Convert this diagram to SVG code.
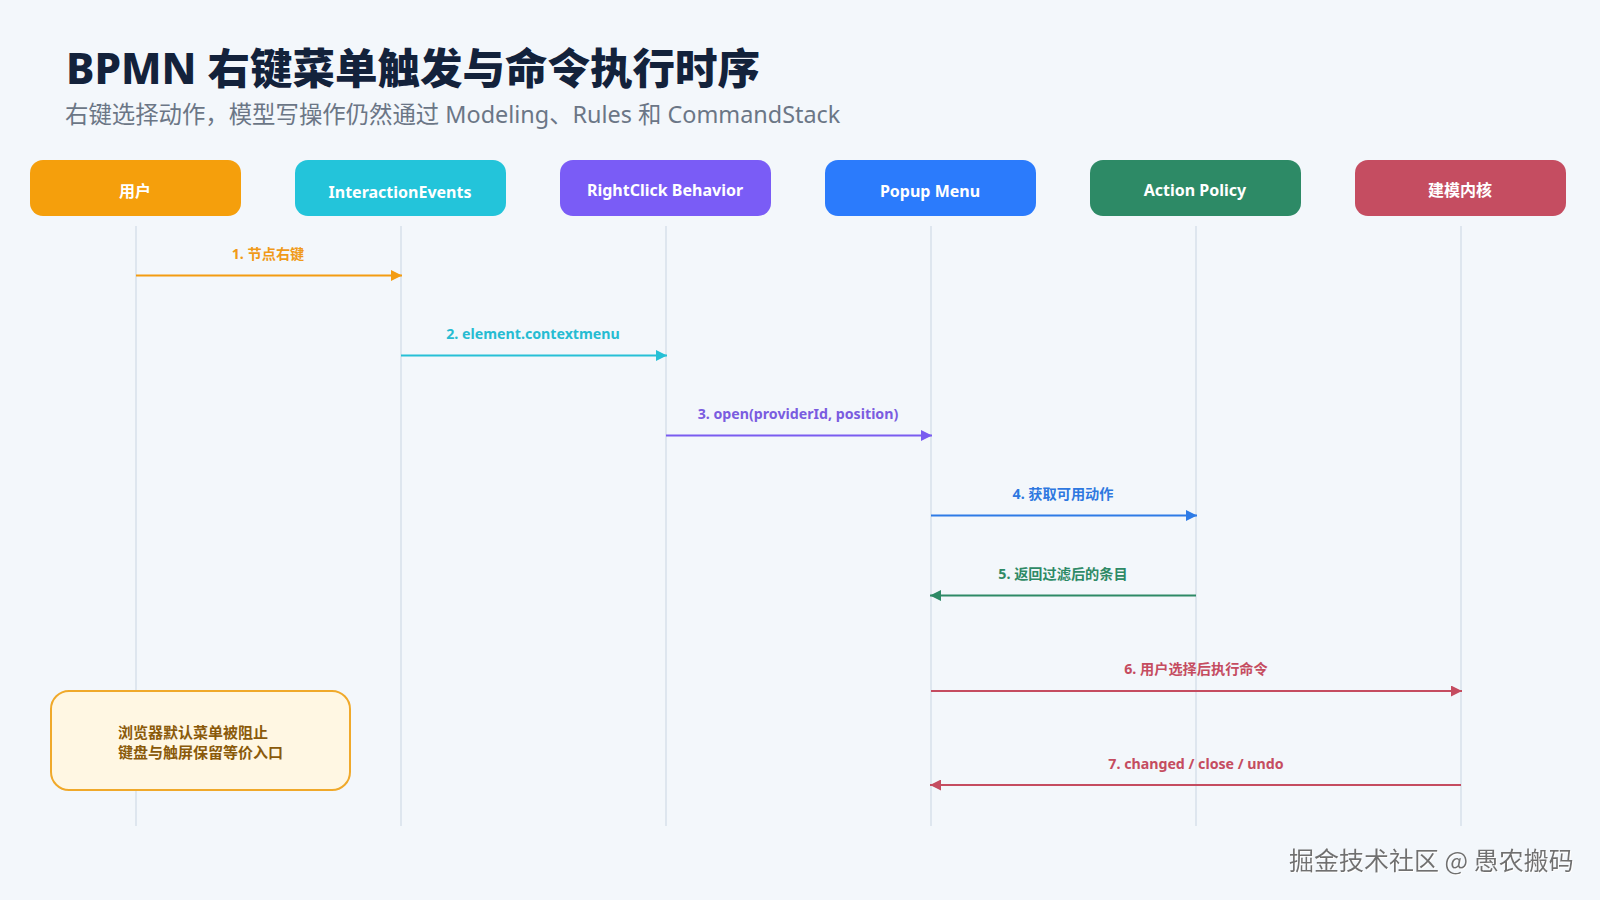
<svg xmlns="http://www.w3.org/2000/svg" width="1600" height="900" viewBox="0 0 1600 900">
<defs>
<style>
.bg{fill:#f3f7fb}
.title{font-family:"Noto Sans","Noto Sans CJK SC",sans-serif;font-weight:800;font-size:42.5px;fill:#13223b}
.sub{font-family:"Noto Sans","Noto Sans CJK SC",sans-serif;font-weight:400;font-size:23.4px;fill:#6b7686}
.hdr{stroke:none}
.htxt{font-family:"Noto Sans","Noto Sans CJK SC",sans-serif;font-weight:700;font-size:16px;fill:#ffffff;text-anchor:middle}
.life{stroke:#d9e1ec;stroke-width:1.6;fill:none}
.msg{fill:none;stroke-width:2}
.lbl{font-family:"Noto Sans","Noto Sans CJK SC",sans-serif;font-weight:700;font-size:14.2px;text-anchor:middle}
.note{fill:#fff7e3;stroke:#f0a92a;stroke-width:2}
.ntxt{font-family:"Noto Sans","Noto Sans CJK SC",sans-serif;font-weight:700;font-size:15px;fill:#8a5a0a}
.wm{font-family:"Noto Sans CJK SC","Noto Sans",sans-serif;font-weight:400;font-size:25px;fill:#707070}
</style>
<marker id="aO" viewBox="0 0 10 10" refX="10" refY="5" markerWidth="5.5" markerHeight="5.5" orient="auto-start-reverse" markerUnits="strokeWidth"><path d="M0,0 L10,5 L0,10 z" fill="#f39c12"/></marker>
<marker id="aC" viewBox="0 0 10 10" refX="10" refY="5" markerWidth="5.5" markerHeight="5.5" orient="auto-start-reverse" markerUnits="strokeWidth"><path d="M0,0 L10,5 L0,10 z" fill="#26c0d6"/></marker>
<marker id="aP" viewBox="0 0 10 10" refX="10" refY="5" markerWidth="5.5" markerHeight="5.5" orient="auto-start-reverse" markerUnits="strokeWidth"><path d="M0,0 L10,5 L0,10 z" fill="#7a5cf0"/></marker>
<marker id="aB" viewBox="0 0 10 10" refX="10" refY="5" markerWidth="5.5" markerHeight="5.5" orient="auto-start-reverse" markerUnits="strokeWidth"><path d="M0,0 L10,5 L0,10 z" fill="#2e7be6"/></marker>
<marker id="aG" viewBox="0 0 10 10" refX="10" refY="5" markerWidth="5.5" markerHeight="5.5" orient="auto-start-reverse" markerUnits="strokeWidth"><path d="M0,0 L10,5 L0,10 z" fill="#2e8a66"/></marker>
<marker id="aR" viewBox="0 0 10 10" refX="10" refY="5" markerWidth="5.5" markerHeight="5.5" orient="auto-start-reverse" markerUnits="strokeWidth"><path d="M0,0 L10,5 L0,10 z" fill="#c54c60"/></marker>
<filter id="wmf" x="-5%" y="-20%" width="110%" height="140%"><feDropShadow dx="1" dy="1" stdDeviation="0.4" flood-color="#ffffff" flood-opacity="1"/></filter>
</defs>
<rect class="bg" x="0" y="0" width="1600" height="900"/>

<text class="title" x="66" y="84">BPMN 右键菜单触发与命令执行时序</text>
<text class="sub" x="65" y="123">右键选择动作，模型写操作仍然通过 Modeling、Rules 和 CommandStack</text>

<g id="lifelines">
<line class="life" x1="136" y1="226" x2="136" y2="826"/>
<line class="life" x1="401" y1="226" x2="401" y2="826"/>
<line class="life" x1="666" y1="226" x2="666" y2="826"/>
<line class="life" x1="931" y1="226" x2="931" y2="826"/>
<line class="life" x1="1196" y1="226" x2="1196" y2="826"/>
<line class="life" x1="1461" y1="226" x2="1461" y2="826"/>
</g>

<g id="node-user"><rect class="hdr" x="30" y="160" width="211" height="56" rx="13" fill="#f59f0c"/><text class="htxt" x="135" y="197">用户</text></g>
<g id="node-interaction"><rect class="hdr" x="295" y="160" width="211" height="56" rx="13" fill="#23c4da"/><text class="htxt" x="400" y="198">InteractionEvents</text></g>
<g id="node-rightclick"><rect class="hdr" x="560" y="160" width="211" height="56" rx="13" fill="#7a5cf6"/><text class="htxt" x="665" y="196">RightClick Behavior</text></g>
<g id="node-popup"><rect class="hdr" x="825" y="160" width="211" height="56" rx="13" fill="#2b7bfc"/><text class="htxt" x="930" y="197">Popup Menu</text></g>
<g id="node-policy"><rect class="hdr" x="1090" y="160" width="211" height="56" rx="13" fill="#2d8a66"/><text class="htxt" x="1195" y="196">Action Policy</text></g>
<g id="node-core"><rect class="hdr" x="1355" y="160" width="211" height="56" rx="13" fill="#c54d61"/><text class="htxt" x="1460" y="196">建模内核</text></g>

<g id="connectors">
<line class="msg" x1="136" y1="275.5" x2="402" y2="275.5" stroke="#f39c12" marker-end="url(#aO)"/>
<text class="lbl" x="268" y="259" fill="#f09a18">1. 节点右键</text>
<line class="msg" x1="401" y1="355.5" x2="667" y2="355.5" stroke="#26c0d6" marker-end="url(#aC)"/>
<text class="lbl" x="533" y="339" fill="#26bcd2">2. element.contextmenu</text>
<line class="msg" x1="666" y1="435.5" x2="932" y2="435.5" stroke="#7a5cf0" marker-end="url(#aP)"/>
<text class="lbl" x="798" y="419" fill="#7a5ce0">3. open(providerId, position)</text>
<line class="msg" x1="931" y1="515.5" x2="1197" y2="515.5" stroke="#2e7be6" marker-end="url(#aB)"/>
<text class="lbl" x="1063" y="499" fill="#2e78e0">4. 获取可用动作</text>
<line class="msg" x1="1196" y1="595.5" x2="930" y2="595.5" stroke="#2e8a66" marker-end="url(#aG)"/>
<text class="lbl" x="1063" y="579" fill="#2e8a66">5. 返回过滤后的条目</text>
<line class="msg" x1="931" y1="691" x2="1462" y2="691" stroke="#c54c60" marker-end="url(#aR)"/>
<text class="lbl" x="1196" y="674" fill="#c54c60">6. 用户选择后执行命令</text>
<line class="msg" x1="1461" y1="785" x2="930" y2="785" stroke="#c54c60" marker-end="url(#aR)"/>
<text class="lbl" x="1196" y="769" fill="#c54c60">7. changed / close / undo</text>
</g>

<g id="note">
<rect class="note" x="51" y="691" width="299" height="99" rx="18"/>
<text class="ntxt" x="118" y="738">浏览器默认菜单被阻止</text>
<text class="ntxt" x="118" y="758">键盘与触屏保留等价入口</text>
</g>

<text class="wm" x="1289" y="870" filter="url(#wmf)">掘金技术社区 @ 愚农搬码</text>
</svg>
